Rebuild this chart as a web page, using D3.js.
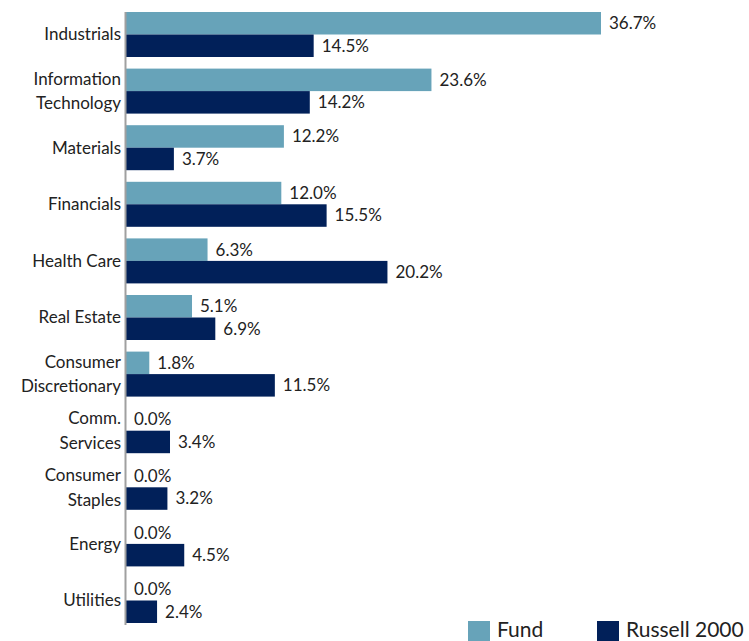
<!DOCTYPE html>
<html>
<head>
<meta charset="utf-8">
<script src="https://cdn.jsdelivr.net/npm/d3@7/dist/d3.min.js"></script>
<style>
  html, body { margin: 0; padding: 0; background: #fff; }
  svg { display: block; }
  text { font-family: Lato, "Open Sans", sans-serif; font-weight: 400; fill: #222; }
</style>
</head>
<body>
<svg id="chart" width="749" height="641"></svg>
<script>
const categories = ["Industrials", "Information Technology", "Materials", "Financials", "Health Care", "Real Estate", "Consumer Discretionary", "Comm. Services", "Consumer Staples", "Energy", "Utilities"];
const categoryLines = [["Industrials"], ["Information", "Technology"], ["Materials"], ["Financials"], ["Health Care"], ["Real Estate"], ["Consumer", "Discretionary"], ["Comm.", "Services"], ["Consumer", "Staples"], ["Energy"], ["Utilities"]];
const seriesNames = ["Fund", "Russell 2000"];
const fundValues = [36.7, 23.6, 12.2, 12.0, 6.3, 5.1, 1.8, 0.0, 0.0, 0.0, 0.0];
const russellValues = [14.5, 14.2, 3.7, 15.5, 20.2, 6.9, 11.5, 3.4, 3.2, 4.5, 2.4];
const colors = ["#67a3b9", "#012059"];

const svg = d3.select("#chart");
const x0 = 126;
const x = d3.scaleLinear().domain([0, 36.7]).range([x0, 601]);
const y = d3.scaleBand().domain(categories).range([6.2, 628.8]).paddingInner(0.205).paddingOuter(0.1025);
const ySub = d3.scaleBand().domain(seriesNames).range([0, y.bandwidth()]);

const data = categories.map((c, i) => ({ cat: c, lines: categoryLines[i], vals: [fundValues[i], russellValues[i]] }));

const g = svg.append("g");
data.forEach(d => {
  d.vals.forEach((v, j) => {
    const yy = y(d.cat) + ySub(seriesNames[j]);
    g.append("rect")
      .attr("x", x(0)).attr("y", yy)
      .attr("width", x(v) - x(0)).attr("height", ySub.bandwidth())
      .attr("fill", colors[j]);
    g.append("text")
      .attr("x", x(v) + 8).attr("y", yy + ySub.bandwidth() / 2)
      .attr("dy", "0.35em").attr("font-size", 17)
      .text(v.toFixed(1) + "%");
  });
  const cy = y(d.cat) + y.bandwidth() / 2;
  const n = d.lines.length;
  d.lines.forEach((l, k) => {
    g.append("text")
      .attr("x", 121).attr("y", cy + (k - (n - 1) / 2) * 24.5)
      .attr("dy", "0.35em").attr("text-anchor", "end").attr("font-size", 17)
      .text(l);
  });
});

// axis line
svg.append("line")
  .attr("x1", 125.5).attr("x2", 125.5)
  .attr("y1", y(categories[0]) ).attr("y2", y(categories[categories.length - 1]) + y.bandwidth() + 2)
  .attr("stroke", "#a0a0a0").attr("stroke-width", 2);

// legend
const legendX = [468, 597];
seriesNames.forEach((s, j) => {
  svg.append("rect").attr("x", legendX[j]).attr("y", 621).attr("width", 22).attr("height", 22).attr("fill", colors[j]);
  svg.append("text").attr("x", legendX[j] + 29).attr("y", 637).attr("font-size", 21).text(s);
});
</script>
</body>
</html>
